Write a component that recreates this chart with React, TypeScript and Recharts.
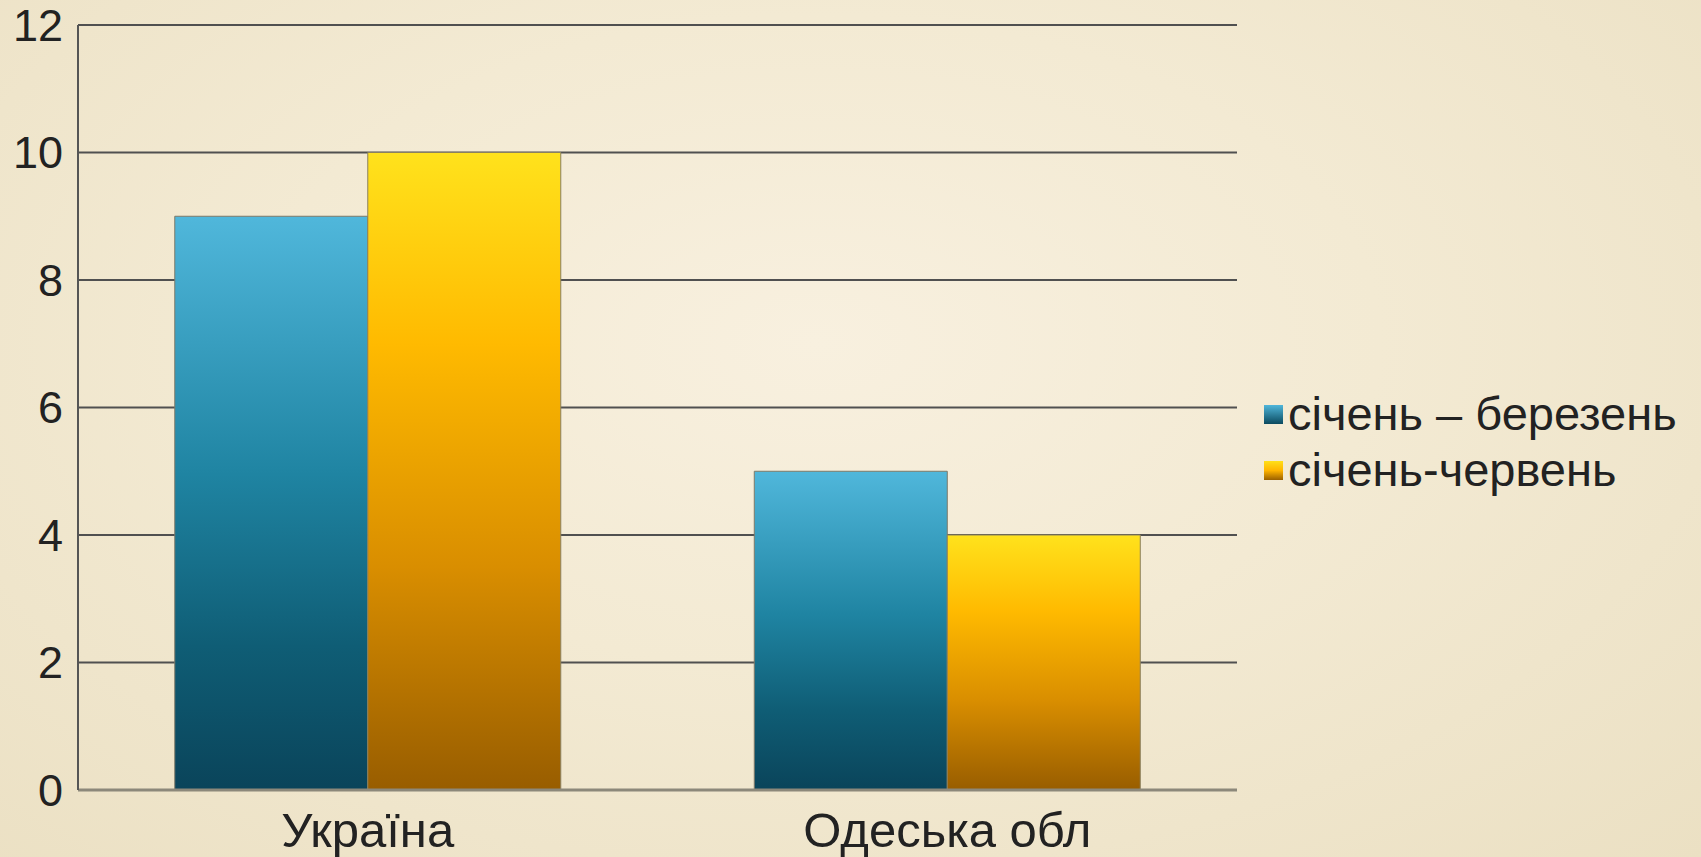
import React from 'react';
import { BarChart, Bar, XAxis, YAxis, CartesianGrid, Legend } from 'recharts';

const categories = ['Україна', 'Одеська обл'];
const seriesJanMar = [9, 5];
const seriesJanJun = [10, 4];
const seriesNames = ['січень – березень', 'січень-червень'];
const yTicks = [0, 2, 4, 6, 8, 10, 12];

const data = categories.map((c, i) => ({
  name: c,
  a: seriesJanMar[i],
  b: seriesJanJun[i],
}));

const FONT = '"Liberation Sans", Arial, sans-serif';

const legendItems = [
  { label: seriesNames[0], grad: 'linear-gradient(#4fb6da, #0b4a5f)' },
  { label: seriesNames[1], grad: 'linear-gradient(#ffe01a, #ffb400, #9a6000)' },
];

const LegendContent = () => (
  <div style={{ fontFamily: FONT, fontSize: 47, color: '#222' }}>
    {legendItems.map((it) => (
      <div key={it.label} style={{ display: 'flex', alignItems: 'center', height: 56, whiteSpace: 'nowrap' }}>
        <span style={{ display: 'inline-block', width: 19, height: 19, background: it.grad, marginRight: 5, marginTop: 2 }} />
        <span>{it.label}</span>
      </div>
    ))}
  </div>
);

export default function App() {
  return (
    <div
      style={{
        position: 'absolute',
        left: 0,
        top: 0,
        width: 1701,
        height: 857,
        background: 'radial-gradient(ellipse at 48% 40%, #f8f0df 0%, #f3ead3 45%, #ebe0c3 100%)',
        overflow: 'hidden',
      }}
    >
      <BarChart
        width={1701}
        height={857}
        data={data}
        margin={{ top: 25, right: 464, bottom: 0, left: 0 }}
        barCategoryGap="16.7%"
        barGap={0}
      >
        <defs>
          <linearGradient id="gBlue" x1="0" y1="0" x2="0" y2="1">
            <stop offset="0%" stopColor="#50b7db" />
            <stop offset="45%" stopColor="#1f84a2" />
            <stop offset="75%" stopColor="#0f5d75" />
            <stop offset="100%" stopColor="#0a445a" />
          </linearGradient>
          <linearGradient id="gYellow" x1="0" y1="0" x2="0" y2="1">
            <stop offset="0%" stopColor="#ffe21c" />
            <stop offset="30%" stopColor="#ffba00" />
            <stop offset="65%" stopColor="#d98e00" />
            <stop offset="100%" stopColor="#985d00" />
          </linearGradient>
        </defs>
        <CartesianGrid horizontal vertical={false} stroke="#505050" strokeWidth={2} />
        <XAxis
          dataKey="name"
          height={67}
          tickLine={false}
          tickSize={0}
          tickMargin={22}
          axisLine={{ stroke: '#8c887a', strokeWidth: 3 }}
          tick={{ fill: '#222', fontSize: 49, fontFamily: FONT }}
        />
        <YAxis
          width={78}
          domain={[0, 12]}
          ticks={yTicks}
          interval={0}
          tickLine={false}
          tickSize={0}
          tickMargin={15}
          axisLine={{ stroke: '#555', strokeWidth: 2 }}
          tick={{ fill: '#222', fontSize: 45, fontFamily: FONT }}
        />
        <Legend
          layout="vertical"
          align="center"
          verticalAlign="middle"
          content={<LegendContent />}
          wrapperStyle={{ left: 1264, top: 385, width: 437 }}
        />
        <Bar dataKey="a" name={seriesNames[0]} fill="url(#gBlue)" stroke="#7d7a68" strokeWidth={1} isAnimationActive={false} />
        <Bar dataKey="b" name={seriesNames[1]} fill="url(#gYellow)" stroke="#8a8060" strokeWidth={1} isAnimationActive={false} />
      </BarChart>
    </div>
  );
}
